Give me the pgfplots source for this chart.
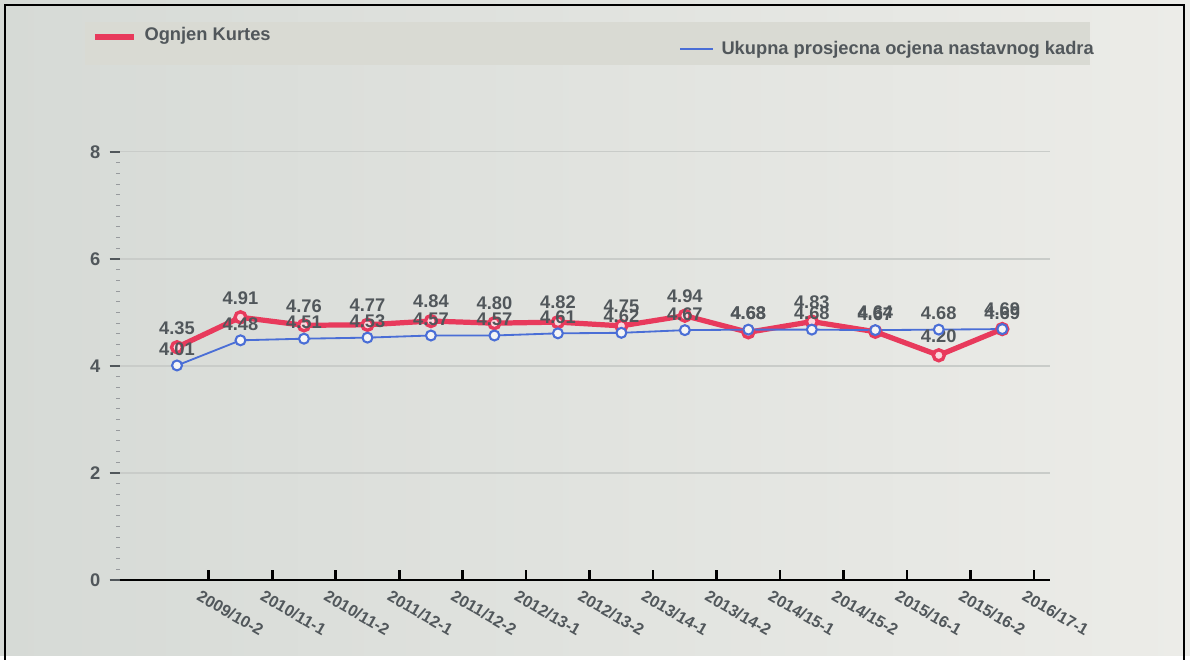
\documentclass[border=0pt]{standalone}
\usepackage{pgfplots}
\pgfplotsset{compat=1.18}
\usepackage{fontspec}
\setmainfont{Liberation Sans}
\definecolor{kred}{HTML}{E83A5C}
\definecolor{kblue}{HTML}{4A6ED6}
\definecolor{ktxt}{HTML}{51575B}
\definecolor{kbgl}{HTML}{D6DAD6}
\definecolor{kbgr}{HTML}{ECECE8}
\definecolor{kleg}{HTML}{D9DAD3}
\definecolor{kgrid}{HTML}{C9CCC9}
\newcommand{\chartfont}{\fontsize{7}{8.4}\selectfont\bfseries}
\newcommand{\catfont}{\fontsize{6.2}{7.4}\selectfont\bfseries}

\pgfplotstableread{
x kurtes ukupno
0  4.35 4.01
1  4.91 4.48
2  4.76 4.51
3  4.77 4.53
4  4.84 4.57
5  4.80 4.57
6  4.82 4.61
7  4.75 4.62
8  4.94 4.67
9  4.63 4.68
10 4.83 4.68
11 4.64 4.67
12 4.20 4.68
13 4.69 4.69
}\grades

\begin{document}
\begin{tikzpicture}
% background, in pixel units from the lower left corner of the plot area
\begin{scope}[x=0.013445cm, y=0.013445cm]
  \shade[left color=kbgl, right color=kbgr] (-120,-76) rectangle (1070,580);
  \draw[black, line width=0.6pt] (-115,-80) -- (-115,575) -- (1064,575) -- (1064,-80);
  \fill[kleg] (-35,515) rectangle (970,558);
  \draw[kred, line width=2.2pt] (-25,543) -- (14,543);
  \node[anchor=west, text=ktxt, font=\chartfont, inner sep=0pt] at (24,544) {Ognjen Kurtes};
  \draw[kblue, line width=0.8pt] (560,531) -- (593,531);
  \node[anchor=west, text=ktxt, font=\chartfont, inner sep=0pt] at (601,530) {Ukupna prosjecna ocjena nastavnog kadra};
\end{scope}

\begin{axis}[
    scale only axis,
    width=12.5cm, height=5.754cm,
    xmin=-0.898, xmax=13.75,
    ymin=0, ymax=8,
    ytick={0,2,4,6,8},
    minor y tick num=9,
    xtick={0.5,1.5,...,13.5},
    xticklabels={2009/10-2,2010/11-1,2010/11-2,2011/12-1,2011/12-2,2012/13-1,2012/13-2,2013/14-1,2013/14-2,2014/15-1,2014/15-2,2015/16-1,2015/16-2,2016/17-1},
    axis x line*=bottom,
    axis y line*=left,
    x axis line style={black, line width=0.9pt, -},
    y axis line style={draw=none},
    xtick style={black, line width=1pt},
    major tick length=4pt,
    xtick align=inside,
    ytick style={ktxt, line width=0.6pt},
    ytick align=outside,
    minor y tick style={ktxt!60, line width=0.4pt},
    minor tick length=1.5pt,
    ymajorgrids,
    major grid style={kgrid, line width=0.4pt},
    tick label style={text=ktxt, font=\chartfont},
    xticklabel style={rotate=-30, anchor=north west, xshift=-4pt, yshift=-1pt, font=\catfont},
    /pgf/number format/assume math mode=true,
  ]
  \addplot[kred, line width=2pt, mark=*, mark size=2.1pt,
    mark options={fill=white!80!kred, draw=kred, line width=1.3pt},
    nodes near coords={\pgfmathprintnumber[fixed, fixed zerofill, precision=2]{\pgfplotspointmeta}},
    point meta=y,
    every node near coord/.append style={text=ktxt, font=\chartfont, yshift=1pt}]
    table[x=x, y=kurtes] {\grades};
  \addplot[kblue, line width=0.7pt, mark=*, mark size=1.9pt,
    mark options={fill=white!92!gray, draw=kblue, line width=0.8pt},
    nodes near coords={\pgfmathprintnumber[fixed, fixed zerofill, precision=2]{\pgfplotspointmeta}},
    point meta=y,
    every node near coord/.append style={text=ktxt, font=\chartfont, yshift=0pt}]
    table[x=x, y=ukupno] {\grades};
\end{axis}
\end{tikzpicture}
\end{document}
